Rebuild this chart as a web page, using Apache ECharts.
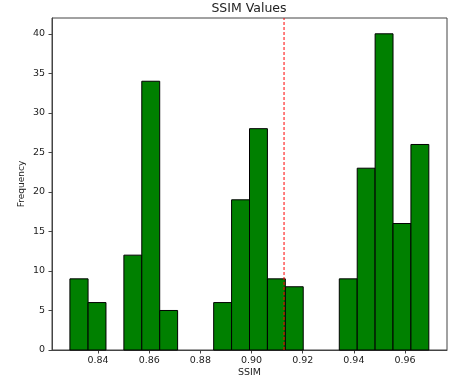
<!DOCTYPE html>
<html>
<head>
<meta charset="utf-8">
<script src="https://cdn.jsdelivr.net/npm/echarts@6/dist/echarts.min.js"></script>
<style>
  html, body { margin: 0; padding: 0; background: #fff; }
  #chart { width: 454px; height: 387px; }
</style>
</head>
<body>
<div id="chart"></div>
<script>
// histogram bin edges (SSIM) and counts per bin
var binEdges = [0.8290, 0.8361, 0.8431, 0.8501, 0.8571, 0.8641, 0.8711, 0.8782, 0.8852, 0.8922, 0.8992,
                0.9062, 0.9132, 0.9202, 0.9273, 0.9343, 0.9413, 0.9483, 0.9553, 0.9623, 0.9693];
var counts = [9, 6, 0, 12, 34, 5, 0, 0, 6, 19, 28, 9, 8, 0, 0, 9, 23, 40, 16, 26];
var meanLine = 0.9127;
var xTicks = [0.84, 0.86, 0.88, 0.90, 0.92, 0.94, 0.96];
var yTicks = [0, 5, 10, 15, 20, 25, 30, 35, 40];

document.addEventListener('DOMContentLoaded', function(){
  var chart = echarts.init(document.getElementById('chart'));
  var font = 'DejaVu Sans';
  var bins = counts.map(function(c, i){ return [binEdges[i], binEdges[i + 1], c] });

  var option = {
    animation: false,
    title: {
      text: 'SSIM Values', left: 249, top: 2, padding: 0, textAlign: 'center',
      textStyle: {fontFamily: font, fontSize: 12.5, fontWeight: 'normal', color: '#222'}
    },
    grid: {left: 52, right: 7, top: 18, bottom: 37, show: true, borderColor: '#444', borderWidth: 1},
    xAxis: {
      type: 'value', min: 0.8220, max: 0.9764,
      name: 'SSIM', nameLocation: 'middle', nameGap: 18, nameMoveOverlap: false,
      nameTextStyle: {fontFamily: font, fontSize: 9.5, color: '#222'},
      axisLine: {lineStyle: {color: '#444', width: 1}},
      axisTick: {show: true, length: 3.5, lineStyle: {color: '#444'}, customValues: xTicks},
      axisLabel: {
        customValues: xTicks, margin: 6, fontFamily: font, fontSize: 9.5, color: '#222',
        formatter: function(v){ return v.toFixed(2) }
      },
      splitLine: {show: false}
    },
    yAxis: {
      type: 'value', min: 0, max: 42,
      name: 'Frequency', nameLocation: 'middle', nameGap: 26, nameMoveOverlap: false,
      nameTextStyle: {fontFamily: font, fontSize: 9, color: '#222'},
      axisLine: {show: true, lineStyle: {color: '#444', width: 1}},
      axisTick: {show: true, length: 3.5, lineStyle: {color: '#444'}, customValues: yTicks},
      axisLabel: {customValues: yTicks, margin: 7, fontFamily: font, fontSize: 9.5, color: '#222'},
      splitLine: {show: false}
    },
    series: [
      {
        type: 'custom',
        data: bins,
        renderItem: function(params, api){
          var p0 = api.coord([api.value(0), api.value(2)]);
          var p1 = api.coord([api.value(1), 0]);
          if (api.value(2) === 0) return;
          return {
            type: 'rect',
            shape: {x: p0[0], y: p0[1], width: p1[0] - p0[0], height: p1[1] - p0[1]},
            style: {fill: '#008000', stroke: '#000', lineWidth: 1}
          };
        },
        encode: {x: [0, 1], y: 2}
      },
      {
        type: 'line',
        data: [[meanLine, 0], [meanLine, 42]],
        symbol: 'none',
        lineStyle: {color: '#ff0000', width: 1, type: [3, 2]},
        z: 5
      }
    ]
  };
  chart.setOption(option);
});
</script>
</body>
</html>
